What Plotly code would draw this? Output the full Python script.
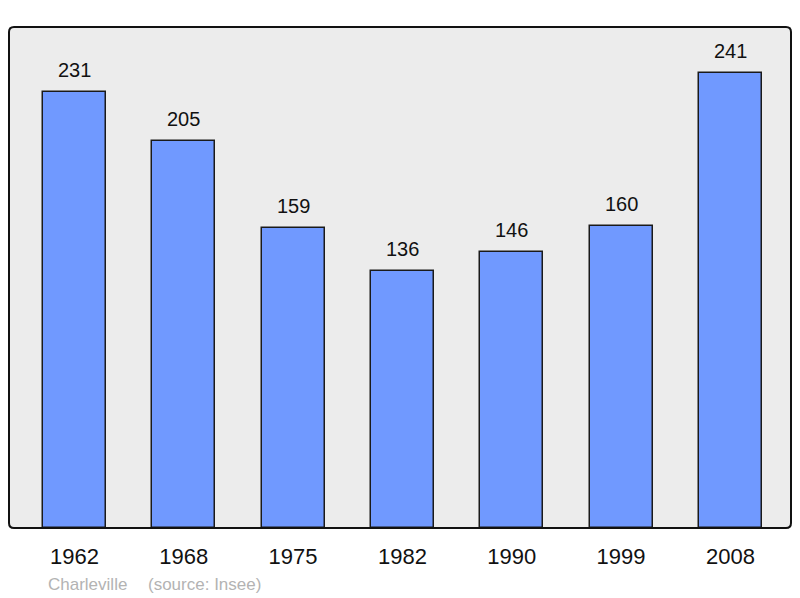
import plotly.graph_objects as go

years = ["1962", "1968", "1975", "1982", "1990", "1999", "2008"]
population = [231, 205, 159, 136, 146, 160, 241]
footer_place = "Charleville"
footer_source = "(source: Insee)"

# the page body has an 8px margin, so the figure is shifted by 8px
OFF = 8
W, H = 800 - OFF, 598 - OFF
L, R, T, B = 9 - OFF, 9, 27 - OFF, 70
plot_w = W - L - R
plot_h = H - T - B
FONT = "Liberation Sans, Arial"

fig = go.Figure()
fig.add_trace(go.Bar(
    x=list(range(len(years))), y=population,
    marker=dict(color="#7099ff", line=dict(color="#1a1a1a", width=1.5)),
    width=0.576,
    hoverinfo="skip",
))

for i, v in enumerate(population):
    fig.add_annotation(x=i, y=v, xref="x", yref="y", text=str(v), showarrow=False,
                       yanchor="bottom", yshift=9,
                       font=dict(family=FONT, size=20, color="#111"))

fy = -(584 - OFF - (T + plot_h)) / plot_h
fig.add_annotation(xref="paper", yref="paper", x=(46 - 9) / plot_w, y=fy, xanchor="left",
                   yanchor="middle", showarrow=False, text=footer_place,
                   font=dict(family=FONT, size=17, color="#b3b3b3"))
fig.add_annotation(xref="paper", yref="paper", x=(146 - 9) / plot_w, y=fy, xanchor="left",
                   yanchor="middle", showarrow=False, text=footer_source,
                   font=dict(family=FONT, size=17, color="#b3b3b3"))

# rounded frame around the plot area (paper coordinates)
rx, ry = 5 / plot_w, 5 / plot_h
path = (f"M {rx},0 L {1-rx},0 Q 1,0 1,{ry} L 1,{1-ry} Q 1,1 {1-rx},1 "
        f"L {rx},1 Q 0,1 0,{1-ry} L 0,{ry} Q 0,0 {rx},0 Z")
fig.add_shape(type="path", xref="paper", yref="paper", path=path,
              line=dict(color="#111", width=2), layer="above")

fig.update_layout(
    width=W, height=H,
    margin=dict(l=L, r=R, t=T, b=B),
    paper_bgcolor="white", plot_bgcolor="#ececec",
    showlegend=False,
    xaxis=dict(range=[-0.598, 6.554], showgrid=False, zeroline=False,
               tickmode="array", tickvals=list(range(len(years))), ticktext=years,
               ticks="outside", ticklen=9, tickcolor="rgba(0,0,0,0)",
               tickfont=dict(family=FONT, size=22, color="#111")),
    yaxis=dict(range=[0, 265.4], showgrid=False, zeroline=False,
               showticklabels=False, ticks=""),
    bargap=0,
)

fig.write_html("out.html")
